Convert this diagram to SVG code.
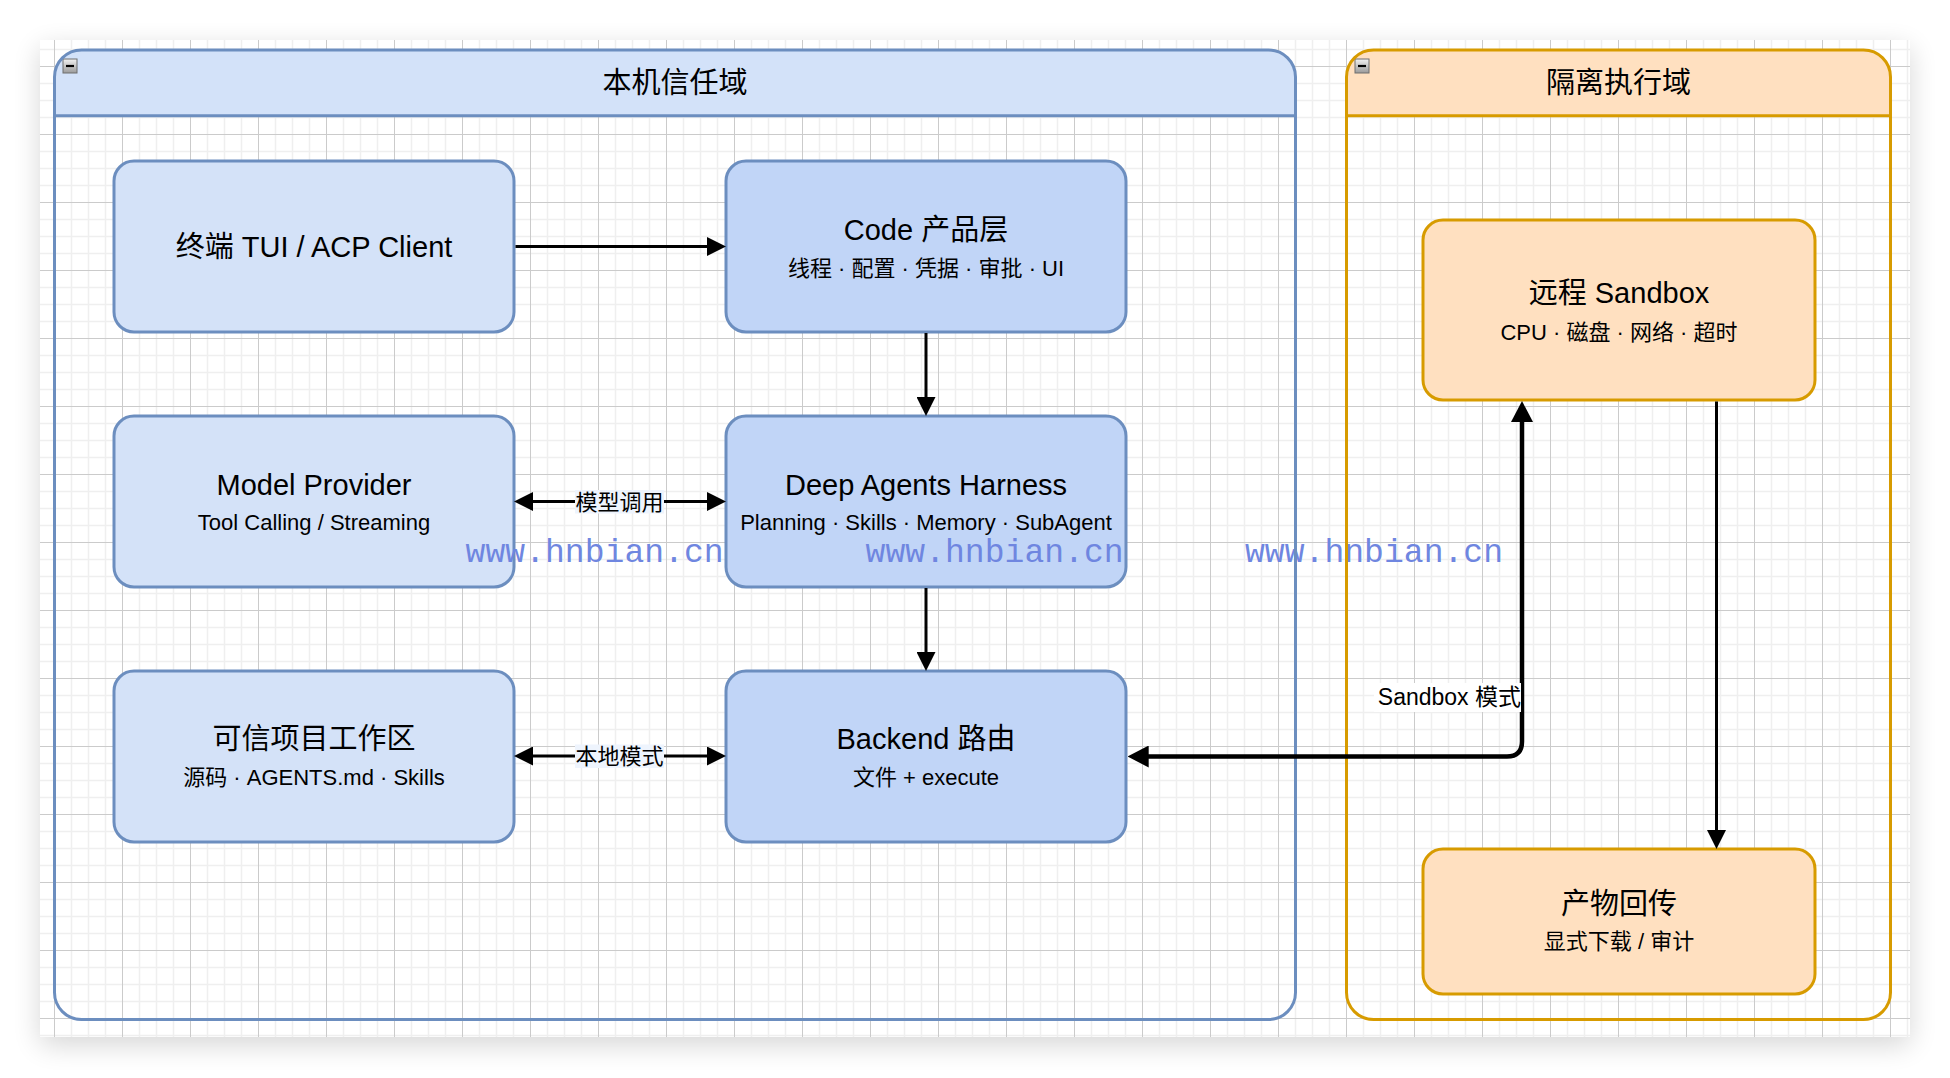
<svg xmlns="http://www.w3.org/2000/svg" width="1950" height="1078" viewBox="0 0 1950 1078">
<defs>
<style>
.t{font-family:"Liberation Sans","Noto Sans CJK SC",sans-serif;fill:#000;text-anchor:middle}
.title{font-size:29px}
.sub{font-size:22px}
.lbl{font-size:22px}
.nb{fill:#d4e2f8;stroke:#6c8ebf;stroke-width:3}
.nd{fill:#c1d5f7;stroke:#6c8ebf;stroke-width:3}
.no{fill:#ffe0c0;stroke:#d79b00;stroke-width:3}
.edge{fill:none;stroke:#000;stroke-width:3}
.edgeb{fill:none;stroke:#000;stroke-width:4.5}
.wm{font-family:"Liberation Mono","DejaVu Sans Mono",monospace;font-size:33px;fill:#6f86e0}
.icon{fill:url(#ig);stroke:#6f6f6f;stroke-width:1}
</style>
<filter id="sh" x="-10%" y="-10%" width="120%" height="120%"><feGaussianBlur stdDeviation="14"/></filter>
<linearGradient id="ig" x1="0" y1="0" x2="0" y2="1"><stop offset="0" stop-color="#f2f2f2"/><stop offset="1" stop-color="#9a9a9a"/></linearGradient>
<pattern id="grid" patternUnits="userSpaceOnUse" x="54" y="66" width="68" height="68">
<path d="M17.5 0V68M34.5 0V68M51.5 0V68M0 17.5H68M0 34.5H68M0 51.5H68" stroke="#efefef" stroke-width="1.5"/>
<path d="M0.5 0V68M0 0.5H68" stroke="#cbcbcb" stroke-width="1"/>
</pattern>
<marker id="ah" markerUnits="userSpaceOnUse" viewBox="0 0 19 19" markerWidth="19" markerHeight="19" refX="1" refY="9.5" orient="auto-start-reverse"><path d="M0,0L19,9.5L0,19Z" fill="#000"/></marker>
<marker id="ahb" markerUnits="userSpaceOnUse" viewBox="0 0 21 22" markerWidth="21" markerHeight="22" refX="1" refY="11" orient="auto-start-reverse"><path d="M0,0L21,11L0,22Z" fill="#000"/></marker>
</defs>

<g id="page">
<rect x="0" y="0" width="1950" height="1078" fill="#ffffff"/>
<rect x="40" y="48" width="1870" height="997" fill="#000" opacity="0.16" filter="url(#sh)"/>
<rect x="40" y="40" width="1870" height="997" fill="#ffffff"/>
<rect x="40" y="40" width="1870" height="997" fill="url(#grid)"/>
</g>

<g id="container-local">
<path d="M54.5,115.7V77A27,27 0 0 1 81.5,50H1268.5A27,27 0 0 1 1295.5,77V115.7Z" fill="#d3e2f9"/>
<rect x="63" y="59" width="14" height="14" class="icon"/>
<path d="M66,66H74" stroke="#000" stroke-width="2.2"/>
<text class="t title" x="675" y="93">本机信任域</text>
</g>

<g id="container-isolated">
<path d="M1346.5,115.7V77A27,27 0 0 1 1373.5,50H1863.5A27,27 0 0 1 1890.5,77V115.7Z" fill="#ffe0c0"/>
<rect x="1355" y="59" width="14" height="14" class="icon"/>
<path d="M1358,66H1366" stroke="#000" stroke-width="2.2"/>
<text class="t title" x="1618.5" y="93">隔离执行域</text>
</g>

<g id="node-tui">
<rect x="114" y="161" width="400" height="171" rx="20" class="nb"/>
<text class="t title" x="314" y="257">终端 TUI / ACP Client</text>
</g>
<g id="node-code">
<rect x="726" y="161" width="400" height="171" rx="20" class="nd"/>
<text class="t title" x="926" y="239.5">Code 产品层</text>
<text class="t sub" x="926" y="275.5">线程 · 配置 · 凭据 · 审批 · UI</text>
</g>
<g id="node-model">
<rect x="114" y="416" width="400" height="171" rx="20" class="nb"/>
<text class="t title" x="314" y="494.5">Model Provider</text>
<text class="t sub" x="314" y="530">Tool Calling / Streaming</text>
</g>
<g id="node-harness">
<rect x="726" y="416" width="400" height="171" rx="20" class="nd"/>
<text class="t title" x="926" y="494.5">Deep Agents Harness</text>
<text class="t sub" x="926" y="530">Planning · Skills · Memory · SubAgent</text>
</g>
<g id="node-workspace">
<rect x="114" y="671" width="400" height="171" rx="20" class="nb"/>
<text class="t title" x="314" y="749">可信项目工作区</text>
<text class="t sub" x="314" y="784.5">源码 · AGENTS.md · Skills</text>
</g>
<g id="node-backend">
<rect x="726" y="671" width="400" height="171" rx="20" class="nd"/>
<text class="t title" x="926" y="749">Backend 路由</text>
<text class="t sub" x="926" y="784.5">文件 + execute</text>
</g>
<g id="node-sandbox">
<rect x="1423" y="220" width="392" height="180" rx="20" class="no"/>
<text class="t title" x="1619" y="303">远程 Sandbox</text>
<text class="t sub" x="1619" y="340">CPU · 磁盘 · 网络 · 超时</text>
</g>
<g id="node-artifacts">
<rect x="1423" y="849" width="392" height="145" rx="20" class="no"/>
<text class="t title" x="1619" y="914">产物回传</text>
<text class="t sub" x="1619" y="949">显式下载 / 审计</text>
</g>

<g id="watermarks">
<text class="wm" x="465.6" y="561.7" textLength="258" lengthAdjust="spacing">www.hnbian.cn</text>
<text class="wm" x="865.6" y="561.7" textLength="258" lengthAdjust="spacing">www.hnbian.cn</text>
<text class="wm" x="1245" y="561.7" textLength="258" lengthAdjust="spacing">www.hnbian.cn</text>
</g>

<g id="container-outlines" fill="none" stroke-width="3">
<rect x="54.5" y="50" width="1241" height="969.5" rx="27" stroke="#6c8ebf"/>
<path d="M54.5,115.7H1295.5" stroke="#6c8ebf"/>
<rect x="1346.5" y="50" width="544" height="969.5" rx="27" stroke="#d79b00"/>
<path d="M1346.5,115.7H1890.5" stroke="#d79b00"/>
</g>

<g id="connectors">
<path class="edge" d="M515.5,246.5H708" marker-end="url(#ah)"/>
<path class="edge" d="M926,333V398" marker-end="url(#ah)"/>
<path class="edge" d="M532,501.5H708" marker-start="url(#ah)" marker-end="url(#ah)"/>
<path class="edge" d="M926,588V653" marker-end="url(#ah)"/>
<path class="edge" d="M532,756H708" marker-start="url(#ah)" marker-end="url(#ah)"/>
<path class="edgeb" d="M1522,421V741.5Q1522,756.5 1507,756.5H1147.7" marker-start="url(#ahb)" marker-end="url(#ahb)"/>
<path class="edge" d="M1716.5,401.5V831" marker-end="url(#ah)"/>
<rect x="575" y="490" width="89" height="23.5" fill="#eef4fd"/>
<text class="t lbl" x="619.5" y="509.5">模型调用</text>
<rect x="575" y="744.5" width="89" height="23.5" fill="#eef4fd"/>
<text class="t lbl" x="619.5" y="764">本地模式</text>
<rect x="1374" y="683" width="147" height="29" fill="#ffffff"/>
<text class="t lbl" x="1521" y="705" style="text-anchor:end;font-size:23px">Sandbox 模式</text>
</g>
</svg>
